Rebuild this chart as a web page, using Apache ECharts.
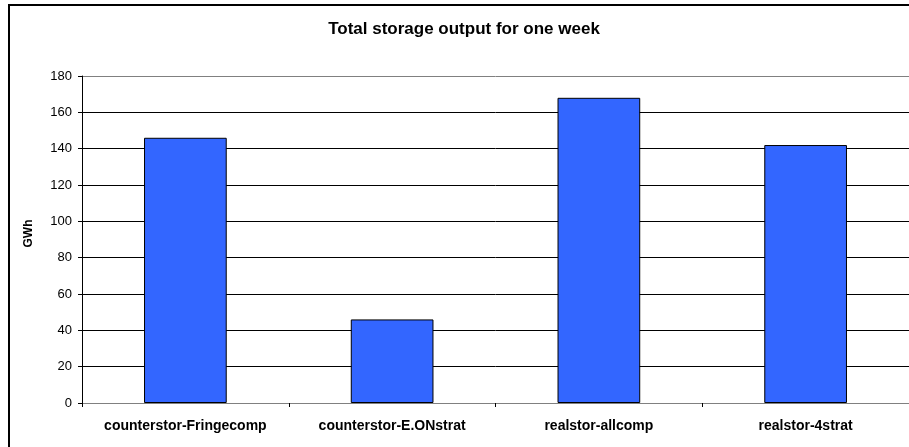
<!DOCTYPE html>
<html>
<head>
<meta charset="utf-8">
<script src="https://cdn.jsdelivr.net/npm/echarts@6/dist/echarts.min.js"></script>
<style>
html,body{margin:0;padding:0;background:#fff;}
#c{width:909px;height:447px;}
</style>
</head>
<body>
<div id="c"></div>
<script>
const categories = ['counterstor-Fringecomp', 'counterstor-E.ONstrat', 'realstor-allcomp', 'realstor-4strat'];
const storageOutput = [146, 46, 168, 142];
const yTicks = [0, 20, 40, 60, 80, 100, 120, 140, 160, 180];

const chart = echarts.init(document.getElementById('c'), null, {renderer: 'canvas'});
const font = 'Arial, "Liberation Sans", sans-serif';
const splitColors = yTicks.map((v, i) => (i === 0 || i === yTicks.length - 1) ? '#808080' : '#000000');

chart.setOption({
  animation: false,
  backgroundColor: '#ffffff',
  title: {
    text: 'Total storage output for one week',
    left: 464,
    top: 21,
    padding: 0,
    textAlign: 'center',
    textStyle: {fontFamily: font, fontSize: 17, fontWeight: 'bold', color: '#000'}
  },
  graphic: [{
    type: 'rect',
    x: 9, y: 5,
    shape: {x: 0, y: 0, width: 1000, height: 1000},
    style: {fill: 'none', stroke: '#000', lineWidth: 2},
    silent: true
  }],
  grid: {left: 82, top: 76, right: -1, bottom: 44, containLabel: false},
  xAxis: {
    type: 'category',
    data: categories,
    axisLine: {lineStyle: {color: '#808080', width: 1}},
    axisTick: {show: true, length: 4, lineStyle: {color: '#000'}},
    axisLabel: {fontFamily: font, fontSize: 14, fontWeight: 'bold', color: '#000', margin: 16, interval: 0}
  },
  yAxis: {
    type: 'value',
    min: 0, max: 180, interval: 20,
    name: 'GWh',
    nameLocation: 'middle',
    nameGap: 47,
    nameTextStyle: {fontFamily: font, fontSize: 12, fontWeight: 'bold', color: '#000', padding: [0, 0, 0, 12]},
    axisLine: {show: true, lineStyle: {color: '#000', width: 1}},
    axisTick: {show: true, length: 4, lineStyle: {color: '#000'}},
    axisLabel: {fontFamily: font, fontSize: 13, color: '#000', margin: 10,
      formatter: v => yTicks.includes(v) ? String(v) : ''},
    splitLine: {show: true, lineStyle: {color: splitColors, width: 1}}
  },
  series: [{
    type: 'bar',
    data: storageOutput,
    barWidth: '40%',
    itemStyle: {color: '#3366FF', borderColor: '#000', borderWidth: 1}
  }]
});
</script>
</body>
</html>
